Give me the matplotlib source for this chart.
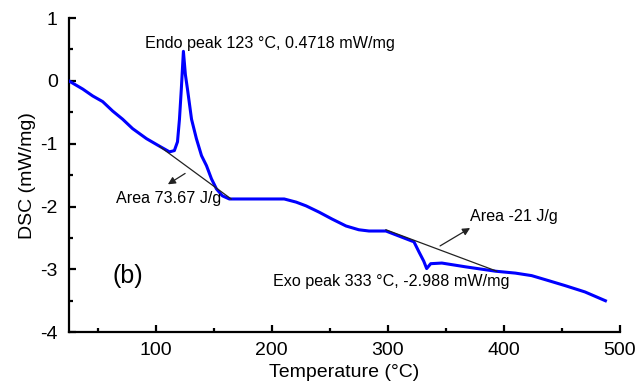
import numpy as np
import matplotlib.pyplot as plt

plt.rcParams['font.family'] = ['Liberation Sans', 'DejaVu Sans']

# DSC curve
temp = [25, 37, 45.6, 54.2, 62.8, 71.4, 80, 92, 103.2, 111.8, 116, 118.7, 120.4, 122,
        123.8, 125.5, 127.3, 130.8, 135, 139.4, 143.7, 148, 152.3, 157.4, 163.4, 167.7,
        190, 210.7, 221, 229.6, 240.8, 252, 264, 275, 283.8, 298.4, 309.6, 320.8, 322.5,
        326.8, 331, 333.5, 337, 346.6, 367, 393, 410, 424, 438.6, 453, 470, 487.6]
dsc = [0.0, -0.13, -0.24, -0.33, -0.48, -0.61, -0.76, -0.92, -1.04, -1.13, -1.11, -0.97,
       -0.61, -0.13, 0.47, 0.1, -0.13, -0.61, -0.92, -1.19, -1.35, -1.56, -1.72, -1.83,
       -1.88, -1.88, -1.88, -1.88, -1.93, -1.99, -2.09, -2.2, -2.31, -2.37, -2.39, -2.39,
       -2.47, -2.55, -2.56, -2.72, -2.87, -2.988, -2.91, -2.9, -2.96, -3.03, -3.06, -3.1,
       -3.18, -3.26, -3.36, -3.5]

# integration baselines
endo_base_x = [103, 165]
endo_base_y = [-1.04, -1.88]
exo_base_x = [298.4, 394]
exo_base_y = [-2.37, -3.03]

fig = plt.figure(figsize=(6.37, 3.84), dpi=100)
ax = fig.add_axes([0.108, 0.135, 0.865, 0.818])

ax.plot(temp, dsc, color='#0000ff', lw=2.2, zorder=3)
ax.plot(endo_base_x, endo_base_y, color='#222222', lw=0.9, zorder=4)
ax.plot(exo_base_x, exo_base_y, color='#222222', lw=0.9, zorder=4)

arrow = dict(arrowstyle='-|>', color='#222222', lw=0.9, mutation_scale=11)
ax.annotate('', xy=(108.4, -1.67), xytext=(127.3, -1.45), arrowprops=arrow)
ax.annotate('', xy=(373, -2.32), xytext=(343, -2.65), arrowprops=arrow)

ax.text(66, -1.88, 'Area 73.67 J/g', fontsize=11.6, va='center')
ax.text(371, -2.16, 'Area -21 J/g', fontsize=11.6, va='center')
ax.text(91, 0.59, 'Endo peak 123 °C, 0.4718 mW/mg', fontsize=11.6, va='center')
ax.text(201, -3.19, 'Exo peak 333 °C, -2.988 mW/mg', fontsize=11.6, va='center')
ax.text(63, -3.1, '(b)', fontsize=18, va='center')

ax.set_xlim(25, 500)
ax.set_ylim(-4, 1)
ax.set_xticks([100, 200, 300, 400, 500])
ax.set_xticks([50, 150, 250, 350, 450], minor=True)
ax.set_yticks([-4, -3, -2, -1, 0, 1])
ax.set_yticks([-3.5, -2.5, -1.5, -0.5, 0.5], minor=True)
ax.set_yticklabels(['-4', '-3', '-2', '-1', '0', '1'])

ax.spines['top'].set_visible(False)
ax.spines['right'].set_visible(False)
ax.spines['left'].set_linewidth(1.6)
ax.spines['bottom'].set_linewidth(1.6)
ax.tick_params(which='major', direction='in', length=5, width=1.6, labelsize=14)
ax.tick_params(axis='x', which='major', pad=7)
ax.tick_params(axis='y', which='major', pad=8)
ax.tick_params(which='minor', direction='in', length=3, width=1.6)

ax.set_xlabel('Temperature (°C)', fontsize=14, labelpad=4)
ax.set_ylabel('DSC (mW/mg)', fontsize=14, labelpad=3)

fig.savefig('out.png', dpi=100)
